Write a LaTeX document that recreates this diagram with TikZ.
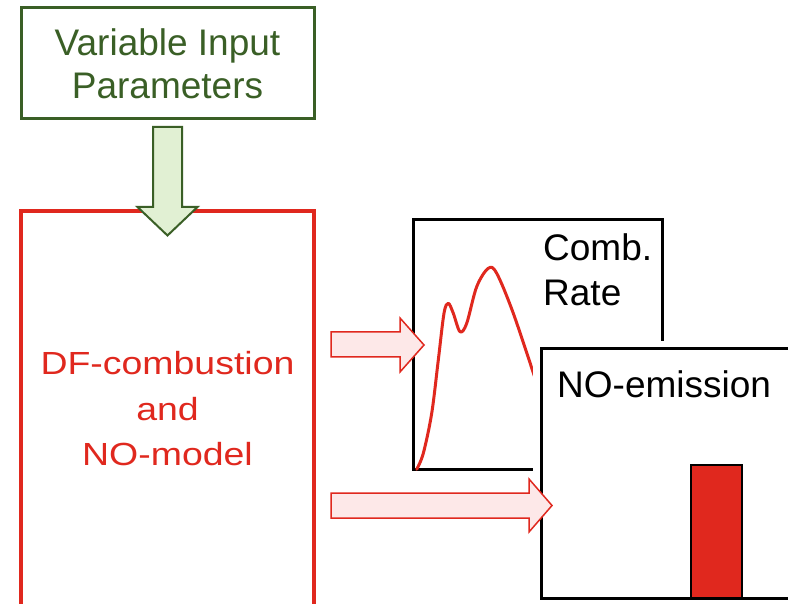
\documentclass[tikz,border=0pt]{standalone}
\usepackage{fontspec}
\setmainfont{Liberation Sans}
\newfontfamily\stretchfont[FakeStretch=1.17]{Liberation Sans}
\definecolor{dkgreen}{HTML}{3A5F26}
\definecolor{ltgreen}{HTML}{E1F0D3}
\definecolor{myred}{HTML}{E0281E}
\definecolor{mypink}{HTML}{FDE8E8}
\begin{document}
\begin{tikzpicture}[x=1pt,y=-1pt,
  gbox/.style={draw=dkgreen,line width=3pt,text=dkgreen,align=center,inner sep=0pt,
    font=\fontsize{37}{43}\selectfont,text depth=0pt},
  rbox/.style={draw=myred,line width=3.2pt,text=myred,align=center,inner sep=0pt,
    font=\stretchfont\fontsize{32}{45.5}\selectfont,text depth=0pt},
  kbox/.style={draw=black,line width=3pt},
  lbl/.style={inner sep=0pt,font=\fontsize{37}{45}\selectfont,align=left},
  garrow/.style={draw=dkgreen,fill=ltgreen,line width=2pt,line join=miter},
  rarrow/.style={draw=myred,fill=mypink,line width=1.5pt,line join=miter},
  curve/.style={draw=myred,line width=3pt,line cap=round,line join=round}]
\useasboundingbox (0,0) rectangle (788,604);
\fill[white] (0,0) rectangle (788,604);
% input box
\node[gbox,minimum width=293pt,minimum height=111pt] (inp) at (167.5,63.5) {Variable Input\\Parameters};
% model box
\node[rbox,minimum width=293pt,minimum height=395pt] (mod) at (167.5,408.5) {DF-combustion\\and\\NO-model};
% green block arrow
\draw[garrow] (153,127) -- (182,127) -- (182,207) -- (197.5,207) -- (167.5,235.5) -- (137.5,207) -- (153,207) -- cycle;
% combustion rate chart
\node[kbox,minimum width=249pt,minimum height=249pt,inner sep=0pt] (comb) at (537.5,344.5) {};
\draw[curve] plot[smooth,tension=0.55] coordinates {(416.7,469.3) (423.3,453.3) (431.7,413.3) (438.3,360) (444,313.3) (448.3,303.3) (453.3,313.3) (460,331.7) (466.7,323.3) (476.7,286.7) (488.3,268.3) (496.7,273.3) (513.3,313.3) (535,378)};
\node[lbl,anchor=west] (combl) at (543,269.5) {Comb.\\Rate};
% NO emission chart
\fill[white] (533,341) rectangle (800,606);
\node[kbox,minimum width=259pt,minimum height=249pt,inner sep=0pt] (noe) at (670.5,473.5) {};
\node[lbl,anchor=base west] (noel) at (557,397) {NO-emission};
\node[draw=black,fill=myred,line width=2.5pt,minimum width=51pt,minimum height=133pt,inner sep=0pt] (bar) at (716.5,531.5) {};
% output arrows
\draw[rarrow] (331,332) -- (400,332) -- (400,318) -- (424,345) -- (400,372) -- (400,357) -- (331,357) -- cycle;
\draw[rarrow] (331,493) -- (529,493) -- (529,479) -- (552,505.5) -- (529,532) -- (529,518) -- (331,518) -- cycle;
\end{tikzpicture}
\end{document}
